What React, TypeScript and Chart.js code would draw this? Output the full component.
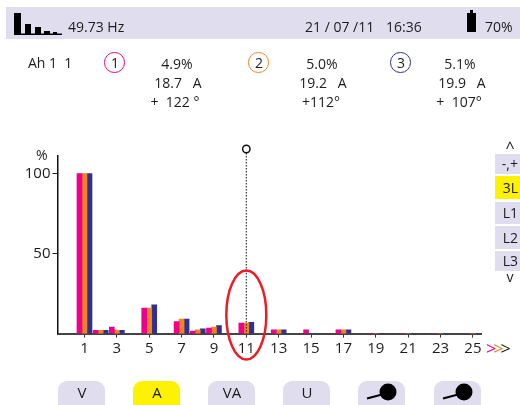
import React, { useEffect, useRef } from "react";
import { Chart, registerables } from "chart.js";

Chart.register(...registerables);

const harmonics = [1, 2, 3, 5, 7, 8, 9, 11, 13, 15, 17, 19, 21, 23, 25];
const phase1 = [100, 2, 4, 16, 7.5, 1.5, 3.5, 6.5, 2.4, 2.4, 2.4, 0, 0, 0, 0];
const phase2 = [100, 2, 2, 16, 9, 2.4, 4, 6.5, 2.4, null, 2.4, 0, 0, 0, 0];
const phase3 = [100, 2, 2, 18, 9, 3, 5, 7, 2.4, null, 2.4, 0, 0, 0, 0];
const xTicks = [1, 3, 5, 7, 9, 11, 13, 15, 17, 19, 21, 23, 25];
const yTicks = [50, 100];
const cursorHarmonic = 11;

const MAGENTA = "#ec008c";
const ORANGE = "#f58220";
const NAVY = "#2e3192";
const PANEL = "#e0deee";
const YELLOW = "#fff200";
const INK = "#1c1c1c";
const FONT = '"Open Sans", sans-serif';

const cursorPlugin = {
  id: "cursor",
  afterDatasetsDraw(chart: any) {
    const { ctx, scales } = chart;
    const x = scales.x.getPixelForValue(cursorHarmonic);
    const y0 = scales.y.getPixelForValue(0);
    ctx.save();
    ctx.strokeStyle = "#333";
    ctx.lineWidth = 1.2;
    ctx.setLineDash([1.5, 1.5]);
    ctx.beginPath();
    ctx.moveTo(x, 153);
    ctx.lineTo(x, y0);
    ctx.stroke();
    ctx.setLineDash([]);
    ctx.strokeStyle = "#111";
    ctx.lineWidth = 1.5;
    ctx.beginPath();
    ctx.arc(x, 149, 3.7, 0, Math.PI * 2);
    ctx.stroke();
    ctx.strokeStyle = "#ed1c24";
    ctx.lineWidth = 2.5;
    ctx.beginPath();
    ctx.ellipse(x, 315, 20, 44.5, 0, 0, Math.PI * 2);
    ctx.stroke();
    ctx.restore();
  },
};

function T({ x, y, c, r, children, size = 14, color = INK }: any) {
  const style: any = {
    position: "absolute",
    top: y,
    lineHeight: "20px",
    height: 20,
    marginTop: -10,
    whiteSpace: "pre",
    fontFamily: FONT,
    fontSize: size,
    color,
  };
  if (c !== undefined) {
    style.left = c;
    style.transform = "translateX(-50%)";
  } else if (r !== undefined) {
    style.right = 520 - r;
  } else {
    style.left = x;
  }
  return <div style={style}>{children}</div>;
}

function Box({ x, y, w, h, bg, radius }: any) {
  return (
    <div
      style={{
        position: "absolute",
        left: x,
        top: y,
        width: w,
        height: h,
        background: bg,
        borderRadius: radius,
      }}
    />
  );
}

function Phase({ x, y, color, n }: any) {
  return (
    <>
      <div
        style={{
          position: "absolute",
          left: x - 11,
          top: y - 11,
          width: 18.5,
          height: 18.5,
          padding: 0,
          border: `1.6px solid ${color}`,
          borderRadius: "50%",
        }}
      />
      <T c={x} y={y}>{n}</T>
    </>
  );
}

const tabs = [
  { x: 58, label: "V" },
  { x: 133, label: "A", active: true },
  { x: 208, label: "VA" },
  { x: 283, label: "U" },
  { x: 358, icon: true },
  { x: 434, icon: true },
];

const sideButtons = [
  { y: 154, h: 20, label: "-,+" },
  { y: 176, h: 23, label: "3L", active: true },
  { y: 202, h: 22, label: "L1" },
  { y: 226, h: 23, label: "L2" },
  { y: 251, h: 20, label: "L3" },
];

export default function App() {
  const ref = useRef<HTMLCanvasElement>(null);
  useEffect(() => {
    const toPoints = (vals: (number | null)[]) =>
      harmonics.map((h, i) => ({ x: h, y: vals[i] }));
    const tickFont = { family: "Open Sans", size: 15 };
    const chart = new Chart(ref.current!, {
      type: "bar",
      data: {
        datasets: [
          { data: toPoints(phase1), backgroundColor: MAGENTA, barThickness: 5 },
          { data: toPoints(phase2), backgroundColor: ORANGE, barThickness: 5 },
          { data: toPoints(phase3), backgroundColor: NAVY, barThickness: 5 },
        ],
      } as any,
      options: {
        animation: false,
        responsive: false,
        layout: { padding: { top: 156, right: 39, left: 0, bottom: 0 } },
        plugins: { legend: { display: false }, tooltip: { enabled: false } },
        scales: {
          x: {
            type: "linear",
            offset: false,
            min: -0.667,
            max: 25.5,
            afterBuildTicks: (s: any) => {
              s.ticks = xTicks.map((v) => ({ value: v }));
            },
            afterFit: (s: any) => {
              s.height = 405 - 333.6;
            },
            border: { color: "#444", width: 2 },
            grid: {
              display: true,
              offset: false,
              drawOnChartArea: false,
              drawTicks: true,
              tickLength: 4,
              color: "#333",
            },
            ticks: {
              color: INK,
              font: tickFont,
              padding: 2,
              maxRotation: 0,
              autoSkip: false,
              callback: (v: any) => String(v),
            },
          },
          y: {
            type: "linear",
            min: 0,
            max: 111,
            afterBuildTicks: (s: any) => {
              s.ticks = yTicks.map((v) => ({ value: v }));
            },
            afterFit: (s: any) => {
              s.width = 57.5;
            },
            border: { color: "#111", width: 1.5 },
            grid: {
              display: true,
              drawOnChartArea: false,
              drawTicks: true,
              tickLength: 5,
              color: "#222",
            },
            ticks: { color: INK, font: { family: "Open Sans", size: 15 }, padding: 2 },
          },
        },
      } as any,
      plugins: [cursorPlugin],
    });
    return () => chart.destroy();
  }, []);

  return (
    <div
      style={{
        position: "absolute",
        left: 0,
        top: 0,
        width: 520,
        height: 405,
        overflow: "hidden",
        background: "#fff",
      }}
    >
      <Box x={6} y={7} w={514} h={32} bg={PANEL} />
      <canvas
        ref={ref}
        width={520}
        height={405}
        style={{ position: "absolute", left: 0, top: 0, display: "block" }}
      />
      <svg width={520} height={40} style={{ position: "absolute", left: 0, top: 0 }}>
        <rect x={14} y={13} width={7} height={21} fill="#000" />
        <rect x={25} y={24} width={6} height={10} fill="#000" />
        <rect x={35} y={27} width={6} height={7} fill="#000" />
        <rect x={44} y={31} width={6} height={3} fill="#000" />
        <rect x={14} y={33.5} width={48} height={1.5} fill="#000" />
        <rect x={53} y={32} width={4} height={2} fill="#000" />
        <rect x={467} y={13} width={9} height={19} fill="#000" />
        <rect x={470} y={10} width={3} height={3} fill="#000" />
      </svg>
      <T x={68} y={27}>49.73 Hz</T>
      <T x={305} y={27}>21 / 07 /11</T>
      <T x={386} y={27}>16:36</T>
      <T x={485} y={27}>70%</T>

      <T x={28} y={63}>Ah 1  1</T>
      <Phase x={115} y={63} color={MAGENTA} n="1" />
      <Phase x={259} y={63} color={ORANGE} n="2" />
      <Phase x={401} y={63} color={NAVY} n="3" />

      <T c={177} y={64}>4.9%</T>
      <T c={178} y={83}>18.7   A</T>
      <T c={175} y={102}>+  122 °</T>
      <T c={322} y={64}>5.0%</T>
      <T c={323} y={83}>19.2   A</T>
      <T c={321} y={102}>+112°</T>
      <T c={460} y={64}>5.1%</T>
      <T c={462} y={83}>19.9   A</T>
      <T c={459} y={102}>+  107°</T>

      <T x={36} y={155}>%</T>

      <T c={510} y={147} size={16}>^</T>
      {sideButtons.map((b) => (
        <React.Fragment key={b.label}>
          <Box x={495} y={b.y} w={25} h={b.h} bg={b.active ? YELLOW : PANEL} />
          <T r={518} y={b.y + b.h / 2}>{b.label}</T>
        </React.Fragment>
      ))}
      <T c={510} y={277} size={14}>v</T>

      <div
        style={{
          position: "absolute",
          left: 486,
          top: 338,
          lineHeight: "20px",
          fontFamily: FONT,
          fontSize: 18,
          whiteSpace: "pre",
        }}
      >
        <span style={{ color: MAGENTA }}>&gt;</span>
        <span style={{ color: ORANGE, marginLeft: -3 }}>&gt;</span>
        <span style={{ color: INK, marginLeft: -3 }}>&gt;</span>
      </div>

      {tabs.map((t, i) => (
        <React.Fragment key={i}>
          <Box
            x={t.x}
            y={381}
            w={47}
            h={24}
            bg={t.active ? YELLOW : PANEL}
            radius="9px 9px 0 0"
          />
          {t.label ? (
            <T c={t.x + 24} y={392} size={15}>{t.label}</T>
          ) : (
            <svg
              width={47}
              height={24}
              style={{ position: "absolute", left: t.x, top: 381 }}
            >
              <circle cx={30} cy={11} r={8.5} fill="#000" />
              <line x1={9} y1={17.5} x2={24} y2={13.5} stroke="#000" strokeWidth={2} />
            </svg>
          )}
        </React.Fragment>
      ))}
    </div>
  );
}
